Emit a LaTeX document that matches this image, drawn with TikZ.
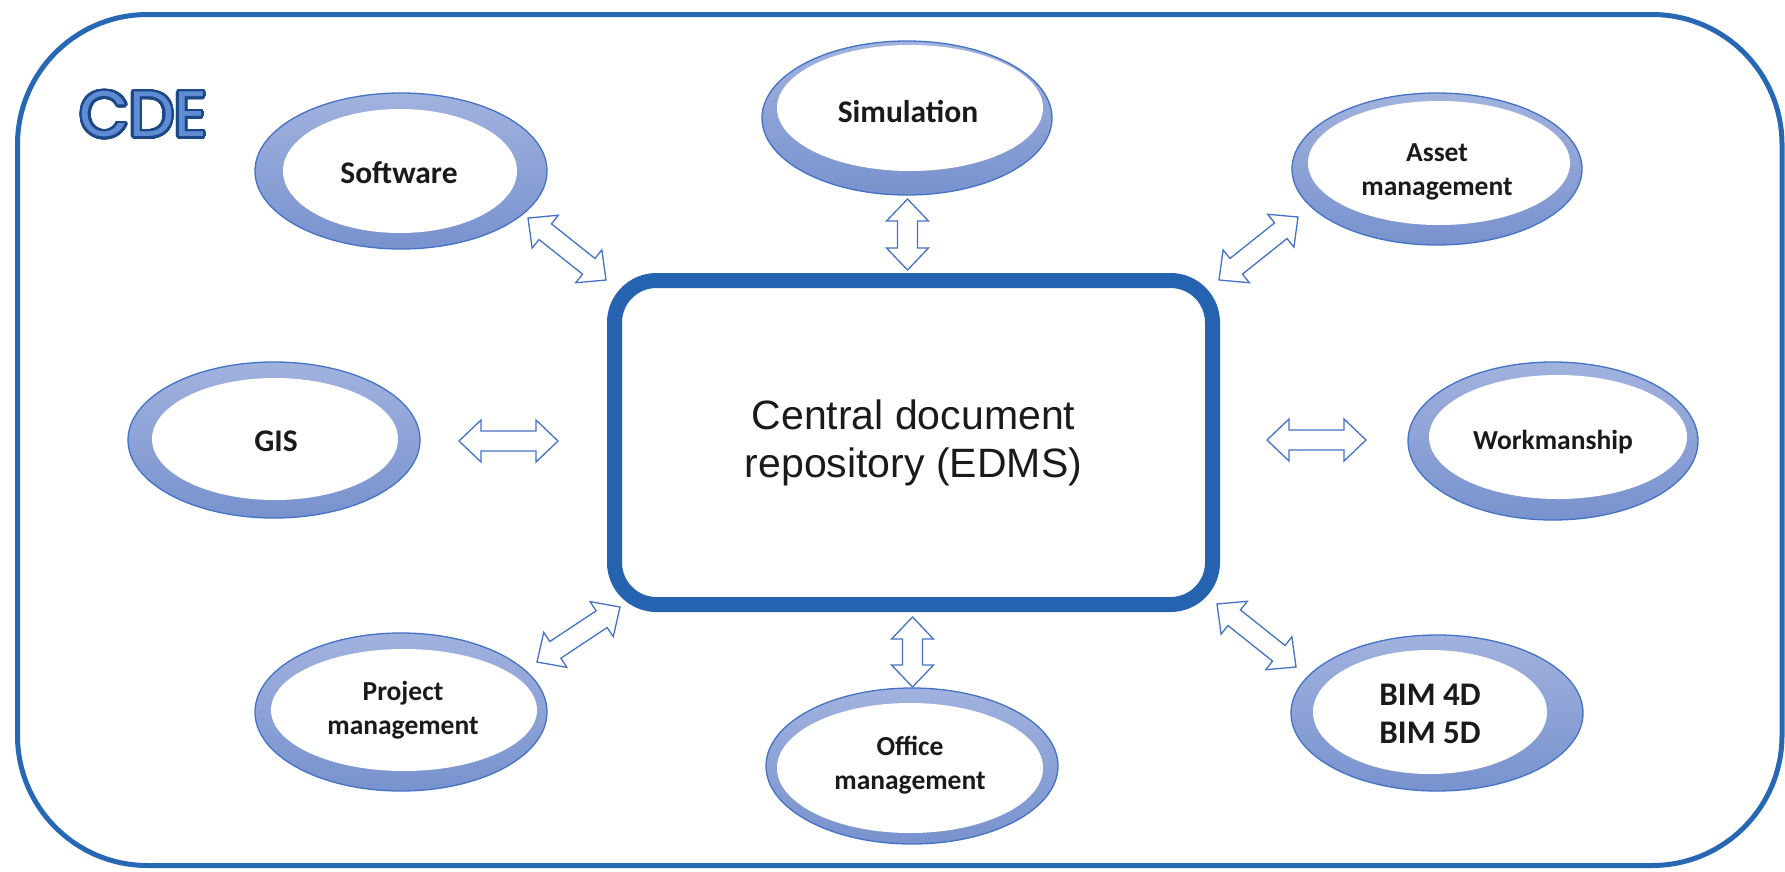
\documentclass[tikz,border=0pt]{standalone}
\usepackage{fontspec}
\usepackage{contour}
\usetikzlibrary{shapes.geometric,calc}
\newfontfamily\lblfont{Carlito}
\newfontfamily\boxfont{Liberation Sans}
\newfontfamily\cdefont{Poppins}
\definecolor{ringtop}{RGB}{161,178,222}
\definecolor{ringbot}{RGB}{120,146,206}
\definecolor{ringline}{RGB}{68,114,196}
\definecolor{boxcol}{RGB}{37,99,176}
\definecolor{framecol}{RGB}{38,104,180}
\definecolor{cdedark}{RGB}{28,72,135}
\definecolor{cdelight}{RGB}{95,140,210}
\definecolor{txt}{RGB}{26,26,26}
\contourlength{2.6pt}
\contournumber{32}
\newcommand\blockarrow[2]{%
  \coordinate (h1) at ($(#1)!22pt!(#2)$);
  \coordinate (h2) at ($(#2)!22pt!(#1)$);
  \draw[barrow] (#1) -- ($(h1)!21pt!90:(#2)$) -- ($(h1)!10pt!90:(#2)$)
    -- ($(h2)!10pt!-90:(#1)$) -- ($(h2)!21pt!-90:(#1)$) -- (#2)
    -- ($(h2)!21pt!90:(#1)$) -- ($(h2)!10pt!90:(#1)$)
    -- ($(h1)!10pt!-90:(#2)$) -- ($(h1)!21pt!-90:(#2)$) -- cycle;}
\begin{document}
\begin{tikzpicture}[x=1pt,y=-1pt,
  ring/.style={ellipse, draw=ringline, line width=1.3pt, top color=ringtop, bottom color=ringbot, inner sep=0pt},
  hole/.style={ellipse, fill=white, inner sep=0pt},
  lblA/.style={font=\lblfont\bfseries\fontsize{31.5}{38}\selectfont, text=txt, align=center, inner sep=0pt},
  lblB/.style={font=\lblfont\bfseries\fontsize{27.5}{34}\selectfont, text=txt, align=center, inner sep=0pt},
  lblC/.style={font=\lblfont\bfseries\fontsize{33}{38}\selectfont, text=txt, align=center, inner sep=0pt},
  barrow/.style={draw=ringline, line width=1.3pt, fill=white, line join=miter}]
\useasboundingbox (0,0) rectangle (1785,871);
\fill[white] (0,0) rectangle (1785,871);
% outer frame
\draw[line width=5pt, draw=framecol, rounded corners=130pt] (17.5,14.5) rectangle (1782,865.5);
% CDE title
\node[inner sep=0pt, font=\cdefont\fontsize{64}{70}\selectfont] (cde) at (143.5,115.5)
  {\contour{cdedark}{\textcolor{cdelight}{CDE}}};
% central box
\node[draw=boxcol, line width=15pt, rounded corners=42pt, minimum width=598pt, minimum height=324pt,
  inner sep=0pt, align=center, text=txt, font=\boxfont\fontsize{41}{48}\selectfont] (edms) at (913.5,442.5)
  {Central document\\repository (EDMS)};
% Software
\node[ring, minimum width=292pt, minimum height=156pt] (sw) at (401,171) {};
\node[hole, minimum width=234pt, minimum height=124pt] (swi) at (400,171) {};
\node[lblA] (swt) at (399,173) {Software};
% Simulation
\node[ring, minimum width=290pt, minimum height=154pt] (sim) at (907,118) {};
\node[hole, minimum width=266pt, minimum height=126pt] (simi) at (910,108) {};
\node[lblA] (simt) at (908,112) {Simulation};
% Asset management
\node[ring, minimum width=290pt, minimum height=152pt] (as) at (1437,169) {};
\node[hole, minimum width=262pt, minimum height=124pt] (asi) at (1439,163) {};
\node[lblB] (ast) at (1437,172) {Asset\\management};
% GIS
\node[ring, minimum width=292pt, minimum height=156pt] (gis) at (274,440) {};
\node[hole, minimum width=246pt, minimum height=122pt] (gisi) at (275,439) {};
\node[lblA] (gist) at (276,441) {GIS};
% Workmanship
\node[ring, minimum width=290pt, minimum height=158pt] (wk) at (1553,441) {};
\node[hole, minimum width=258pt, minimum height=124pt] (wki) at (1558,437) {};
\node[lblB] (wkt) at (1553,442) {Workmanship};
% Project management
\node[ring, minimum width=292pt, minimum height=158pt] (pm) at (401,712) {};
\node[hole, minimum width=266pt, minimum height=122pt] (pmi) at (404,710) {};
\node[lblB] (pmt) at (403,710) {Project\\management};
% Office management
\node[ring, minimum width=292pt, minimum height=156pt] (om) at (912,766) {};
\node[hole, minimum width=266pt, minimum height=130pt] (omi) at (910,768) {};
\node[lblB] (omt) at (910,765) {Office\\management};
% BIM
\node[ring, minimum width=292pt, minimum height=156pt] (bim) at (1437,713) {};
\node[hole, minimum width=234pt, minimum height=124pt] (bimi) at (1430,712) {};
\node[lblC] (bimt) at (1430,714) {BIM 4D\\BIM 5D};
% arrow end points
\coordinate (swa) at (528,218);   \coordinate (swb) at (606,280);
\coordinate (sima) at (907.5,199); \coordinate (simb) at (907.5,270);
\coordinate (asa) at (1298,217);  \coordinate (asb) at (1219,280);
\coordinate (gisa) at (459,441);  \coordinate (gisb) at (558,441);
\coordinate (wka) at (1267,440);  \coordinate (wkb) at (1366,440);
\coordinate (pma) at (537,662);   \coordinate (pmb) at (620,607);
\coordinate (oma) at (912.5,617); \coordinate (omb) at (912.5,687);
\coordinate (bima) at (1217,604); \coordinate (bimb) at (1296,667);
\blockarrow{swa}{swb}
\blockarrow{sima}{simb}
\blockarrow{asa}{asb}
\blockarrow{gisa}{gisb}
\blockarrow{wka}{wkb}
\blockarrow{pma}{pmb}
\blockarrow{oma}{omb}
\blockarrow{bima}{bimb}
\end{tikzpicture}
\end{document}
